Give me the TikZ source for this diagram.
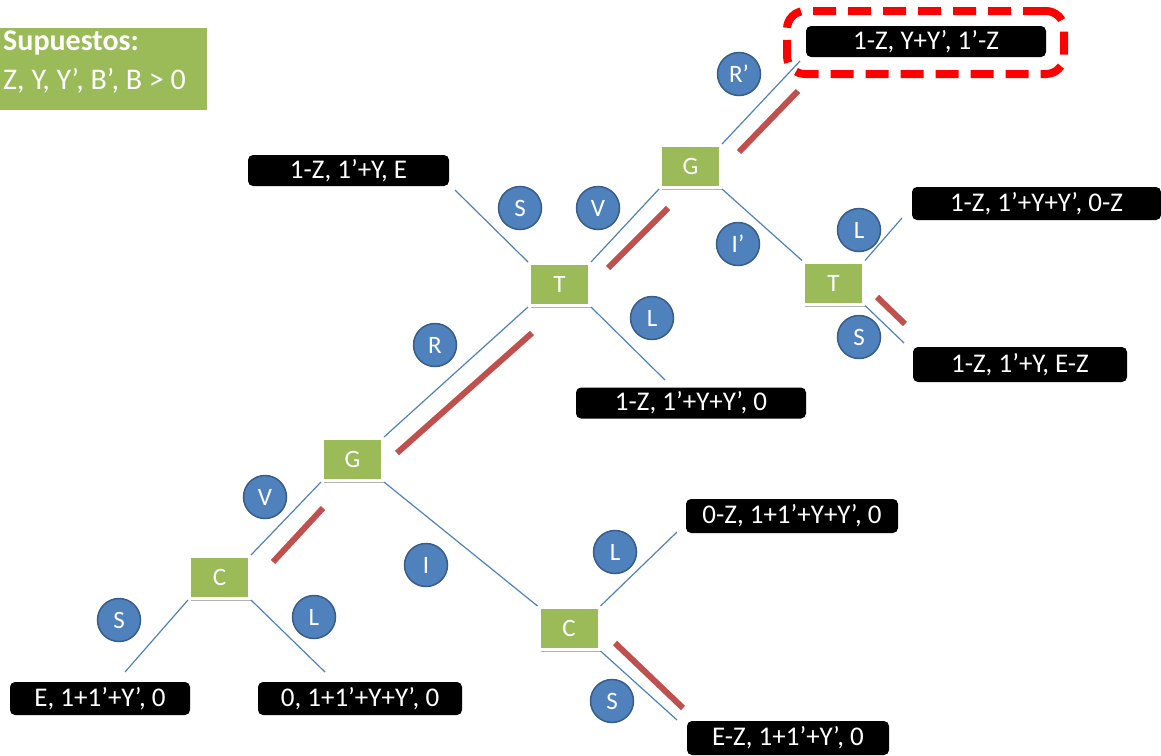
\documentclass[tikz,border=0pt]{standalone}
\usepackage{fontspec}
\setmainfont{Carlito}
\usetikzlibrary{shadows}

\definecolor{leafgreen}{HTML}{9BBB59}
\definecolor{chipblue}{HTML}{4F81BD}
\definecolor{chipedge}{HTML}{385D8A}
\definecolor{pathred}{HTML}{C0504D}
\definecolor{alertred}{HTML}{FF0000}

\tikzset{
  decision/.style={rectangle, fill=leafgreen, draw=white, line width=3pt,
    minimum width=60pt, minimum height=42pt, inner sep=0pt, text=white,
    font=\fontsize{25}{28}\selectfont,
    drop shadow={shadow xshift=1.5pt, shadow yshift=-2.5pt, opacity=0.3, fill=black}},
  payoff/.style={rectangle, fill=black, rounded corners=5pt, text=white,
    inner sep=0pt, font=\fontsize{27}{30}\selectfont},
  move/.style={circle, fill=chipblue, draw=chipedge, line width=1.5pt,
    minimum size=43pt, inner sep=0pt, text=white,
    font=\fontsize{25}{28}\selectfont},
  branch/.style={draw=chipblue, line width=1.2pt},
  bestpath/.style={draw=pathred, line width=6pt},
  note/.style={inner sep=0pt, text=white, anchor=base west},
}

\begin{document}
\begin{tikzpicture}[x=1pt,y=-1pt]
\useasboundingbox (0,0) rectangle (1161,755);

% assumptions box
\node[fill=leafgreen, minimum width=207pt, minimum height=82pt, inner sep=0pt, anchor=north west] (assume) at (0,28) {};
\node[note, font=\fontsize{30}{33}\selectfont\bfseries] (assumeA) at (3,50) {Supuestos:};
\node[note, font=\fontsize{30}{33}\selectfont] (assumeB) at (3,89) {Z, Y, Y’, B’, B > 0};

% decision nodes
\node[decision] (G1) at (690.5,166.5) {G};
\node[decision] (T1) at (559.5,284.5) {T};
\node[decision] (T2) at (833.5,283) {T};
\node[decision] (G2) at (352.5,459.5) {G};
\node[decision] (C1) at (219.5,577.5) {C};
\node[decision] (C2) at (569,628.5) {C};

% payoff boxes
\node[payoff, minimum width=240pt, minimum height=31pt] (P1) at (926,41.5) {1-Z, Y+Y’, 1’-Z};
\node[payoff, minimum width=201pt, minimum height=31pt] (P2) at (348.5,170.5) {1-Z, 1’+Y, E};
\node[payoff, minimum width=249pt, minimum height=33pt] (P3) at (1036.5,203.5) {1-Z, 1’+Y+Y’, 0-Z};
\node[payoff, minimum width=214pt, minimum height=35pt] (P4) at (1020,364.5) {1-Z, 1’+Y, E-Z};
\node[payoff, minimum width=230pt, minimum height=31pt] (P5) at (691,403) {1-Z, 1’+Y+Y’, 0};
\node[payoff, minimum width=212pt, minimum height=34pt] (P6) at (792,516) {0-Z, 1+1’+Y+Y’, 0};
\node[payoff, minimum width=180pt, minimum height=33pt] (P7) at (100,698.5) {E, 1+1’+Y’, 0};
\node[payoff, minimum width=204pt, minimum height=33pt] (P8) at (360,698.5) {0, 1+1’+Y+Y’, 0};
\node[payoff, minimum width=202pt, minimum height=34pt] (P9) at (788,738) {E-Z, 1+1’+Y’, 0};

% highlighted outcome
\node[draw=alertred, line width=8pt, dash pattern=on 23pt off 12pt,
  rounded corners=18pt, minimum width=277pt, minimum height=63pt, inner sep=0pt] (best) at (925.5,42.5) {};

% move labels
\node[move] (mRp) at (739,74) {R’};
\node[move] (mS1) at (520,208) {S};
\node[move] (mV1) at (598,208) {V};
\node[move] (mIp) at (738,244) {I’};
\node[move] (mL1) at (859,230) {L};
\node[move] (mS2) at (859,337) {S};
\node[move] (mL2) at (652,318) {L};
\node[move] (mR) at (435,345) {R};
\node[move] (mV2) at (265,497) {V};
\node[move] (mI) at (426,565) {I};
\node[move] (mL3) at (615,552) {L};
\node[move] (mS3) at (119,620) {S};
\node[move] (mL4) at (314,617) {L};
\node[move] (mS4) at (612,701) {S};

% free ends of branches
\coordinate (e1) at (800,61);
\coordinate (e2) at (455,190);
\coordinate (e3) at (902,218);
\coordinate (e4) at (904,343);
\coordinate (e5) at (665,380);
\coordinate (e6) at (677,532);
\coordinate (e7) at (125,672);
\coordinate (e8) at (325,672);
\coordinate (e9) at (677,720);

% branches
\draw[branch] (G1.north east) -- (e1);
\draw[branch] (G1.south west) -- (T1.north east);
\draw[branch] (G1.south east) -- (T2.north west);
\draw[branch] (T1.north west) -- (e2);
\draw[branch] (T1.south east) -- (e5);
\draw[branch] (T1.south west) -- (G2.north east);
\draw[branch] (T2.north east) -- (e3);
\draw[branch] (T2.south east) -- (e4);
\draw[branch] (G2.south west) -- (C1.north east);
\draw[branch] (G2.south east) -- (C2.north west);
\draw[branch] (C2.north east) -- (e6);
\draw[branch] (C2.south east) -- (e9);
\draw[branch] (C1.south west) -- (e7);
\draw[branch] (C1.south east) -- (e8);

% equilibrium path marks
\draw[bestpath] (739,152) -- (798,91);
\draw[bestpath] (608,268) -- (668,208);
\draw[bestpath] (397,453) -- (532,333);
\draw[bestpath] (273,562) -- (323,508);
\draw[bestpath] (877,297) -- (905,324);
\draw[bestpath] (615,643) -- (683,708);
\end{tikzpicture}
\end{document}
